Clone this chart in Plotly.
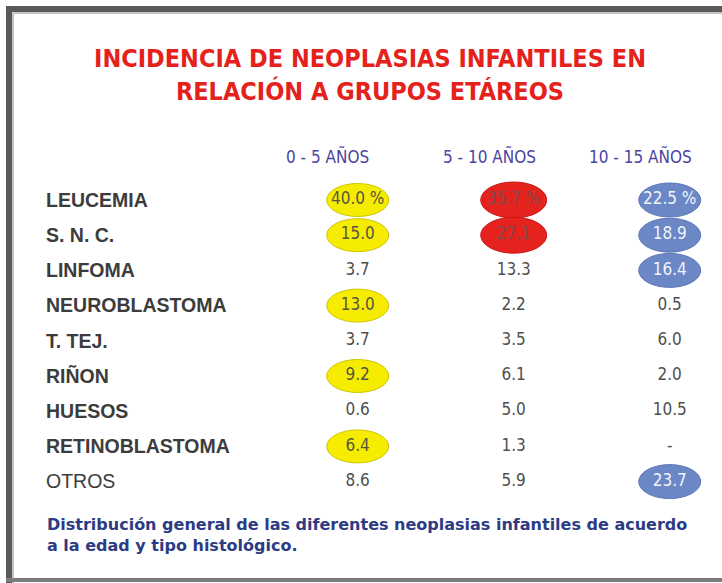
import plotly.graph_objects as go

# ---------------- data ----------------
rows = ["LEUCEMIA", "S. N. C.", "LINFOMA", "NEUROBLASTOMA", "T. TEJ.",
        "RIÑON", "HUESOS", "RETINOBLASTOMA", "OTROS"]
ages = ["0 - 5 AÑOS", "5 - 10 AÑOS", "10 - 15 AÑOS"]

val_0_5 = [40.0, 15.0, 3.7, 13.0, 3.7, 9.2, 0.6, 6.4, 8.6]
val_5_10 = [35.7, 27.1, 13.3, 2.2, 3.5, 6.1, 5.0, 1.3, 5.9]
val_10_15 = [22.5, 18.9, 16.4, 0.5, 6.0, 2.0, 10.5, None, 23.7]

# highlighted cells (1 = circled)
hl_0_5 = [1, 1, 0, 1, 0, 1, 0, 1, 0]
hl_5_10 = [1, 1, 0, 0, 0, 0, 0, 0, 0]
hl_10_15 = [1, 1, 1, 0, 0, 0, 0, 0, 1]

title = "INCIDENCIA DE NEOPLASIAS INFANTILES EN<br>RELACIÓN A GRUPOS ETÁREOS"
caption = ("Distribución general de las diferentes neoplasias infantiles de acuerdo<br>"
           "a la edad y tipo histológico.")

# ---------------- styles ----------------
W, H = 722, 583
NARROW = "Liberation Sans Narrow, DejaVu Sans Condensed, Arial Narrow, sans-serif"
SANS = "Liberation Sans, Arial, Helvetica, sans-serif"
WIDE = "DejaVu Sans, Verdana, sans-serif"
TXT = "#4f4f4f"

columns = [
    (val_0_5, hl_0_5, dict(fill="#f6ec00", line="#cfc400", txt="#565640", w=62, h=33)),
    (val_5_10, hl_5_10, dict(fill="#e6221f", line="#c81a17", txt="#7e4a48", w=66, h=36)),
    (val_10_15, hl_10_15, dict(fill="#6b87c6", line="#5c78b8", txt="#f2f4fb", w=62, h=34)),
]
header_shift = [-30, -24, -29]


def fmt(v, i):
    if v is None:
        return "-"
    s = f"{v:.1f}"
    return s + " %" if i == 0 else s


fig = go.Figure()
shapes = []

for (vals, hls, st), age in zip(columns, ages):
    texts = [fmt(v, i) for i, v in enumerate(vals)]
    colors = [st["txt"] if h else TXT for h in hls]
    fig.add_trace(go.Scatter(
        x=[age] * len(rows), y=rows, mode="text", text=texts,
        textposition="middle center",
        textfont=dict(family=NARROW, size=17, color=colors),
        hoverinfo="skip", showlegend=False,
    ))
    for r, h in zip(rows, hls):
        if h:
            shapes.append(dict(
                type="circle", xref="x", yref="y",
                xsizemode="pixel", ysizemode="pixel",
                xanchor=age, yanchor=r,
                x0=-st["w"] / 2, x1=st["w"] / 2,
                y0=-st["h"] / 2, y1=st["h"] / 2,
                fillcolor=st["fill"], line=dict(color=st["line"], width=1),
                layer="below",
            ))

# frame
shapes += [
    dict(type="line", xref="paper", yref="paper", x0=9 / W, x1=1.02,
         y0=1 - 9 / H, y1=1 - 9 / H, line=dict(color="#595959", width=6)),
    dict(type="line", xref="paper", yref="paper", x0=9 / W, x1=9 / W,
         y0=1 - 6 / H, y1=0, line=dict(color="#595959", width=6)),
    dict(type="line", xref="paper", yref="paper", x0=13 / W, x1=1.02,
         y0=1 - 13 / H, y1=1 - 13 / H, line=dict(color="#c4c4c4", width=2)),
    dict(type="line", xref="paper", yref="paper", x0=13 / W, x1=13 / W,
         y0=1 - 13 / H, y1=0, line=dict(color="#c4c4c4", width=2)),
    dict(type="line", xref="paper", yref="paper", x0=6 / W, x1=1.02,
         y0=1 - 580 / H, y1=1 - 580 / H, line=dict(color="#7c7c7c", width=4)),
]

annotations = []
for age, sh in zip(ages, header_shift):
    annotations.append(dict(
        x=age, xref="x", y=1 - 157 / H, yref="paper", text=age,
        showarrow=False, xshift=sh, xanchor="center", yanchor="middle",
        font=dict(family=NARROW, size=17, color="#4a44a0"),
    ))
annotations.append(dict(
    x=45 / W, xref="paper", y=1 - 513 / H, yref="paper", text="<b>" + caption + "</b>",
    showarrow=False, xanchor="left", yanchor="top", align="left",
    font=dict(family=WIDE, size=16, color="#2c3b84"),
))

ticktext = ["<b>" + r + "</b>" if r != "OTROS" else r for r in rows]

# axis geometry: column step ~158 px, row step ~35 px
AX = 43
x_first, x_step = 357.7, 156.0
y_first, y_step = 200.0, 35.2
xr0 = -(x_first - AX) / x_step
xr1 = xr0 + (W - AX) / x_step
yr_top = -y_first / y_step
yr_bot = (H - y_first) / y_step

fig.update_layout(
    width=W, height=H,
    margin=dict(l=0, r=0, t=0, b=0),
    paper_bgcolor="white", plot_bgcolor="white",
    title=dict(text="<b>" + title + "</b>", x=370 / W, xanchor="center",
               y=1 - 67 / H, yanchor="top",
               font=dict(family=NARROW, size=25, color="#e4221b")),
    xaxis=dict(type="category", categoryorder="array", categoryarray=ages,
               domain=[AX / W, 1],
               range=[xr0, xr1], showticklabels=False, showgrid=False,
               zeroline=False, showline=False, fixedrange=True),
    yaxis=dict(type="category", categoryorder="array", categoryarray=rows,
               range=[yr_bot, yr_top], tickmode="array", tickvals=rows,
               ticktext=ticktext, ticklabelposition="inside", ticks="",
               showgrid=False, zeroline=False, showline=False,
               tickfont=dict(family=SANS, size=19.5, color="#3c3c3c"),
               fixedrange=True),
    shapes=shapes,
    annotations=annotations,
)

fig.write_html("out.html", config={"displayModeBar": False},
               post_script="document.body.style.margin='0';")
